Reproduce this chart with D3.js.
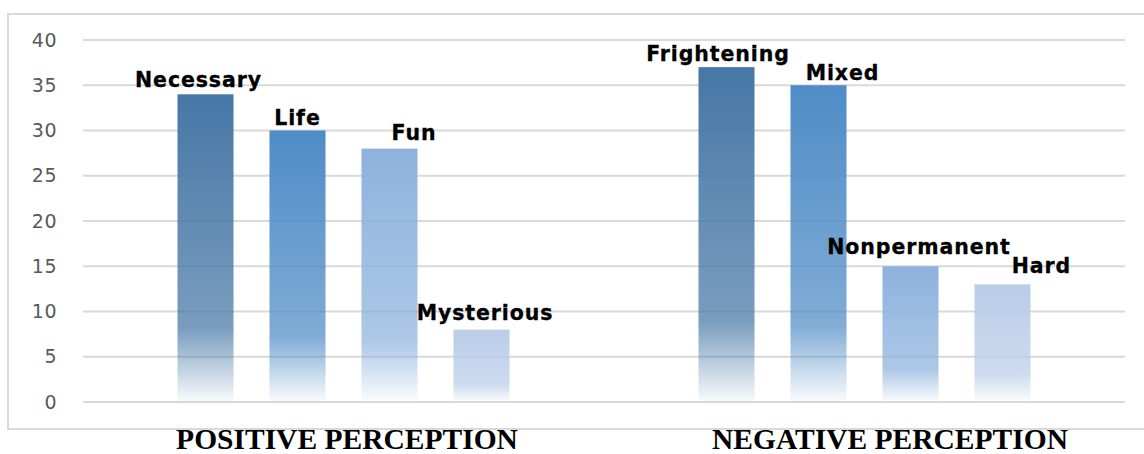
<!DOCTYPE html>
<html><head><meta charset="utf-8">
<script src="https://cdn.jsdelivr.net/npm/d3@7"></script>
<style>body{margin:0;background:#fff}svg{display:block}</style>
</head><body><svg id="c" width="1144" height="454"></svg>
<script>
const groups = ["POSITIVE PERCEPTION", "NEGATIVE PERCEPTION"];
const positiveLabels = ["Necessary", "Life", "Fun", "Mysterious"];
const positiveValues = [34, 30, 28, 8];
const negativeLabels = ["Frightening", "Mixed", "Nonpermanent", "Hard"];
const negativeValues = [37, 35, 15, 13];
const yTicks = [0, 5, 10, 15, 20, 25, 30, 35, 40];

const svg = d3.select("#c");
const mL = 83, mR = 1125, mT = 40, mB = 402;
const seriesColors = ["#4677a6", "#4f8cc6", "#8db2dd", "#b9cde8"];
// label offsets (presentation only)
const labelDx = [[-7, 0, 24.5, 3.5], [-8.5, 24, 8.5, 39]];
const labelDy = [[-7, -5.5, -8.5, -9.5], [-6, -5.5, -12, -11]];

svg.append("rect").attr("x", 8).attr("y", 14).attr("width", 1150).attr("height", 415)
  .attr("fill", "#fff").attr("stroke", "#d9d9d9").attr("stroke-width", 2);

const x0 = d3.scaleBand().domain(groups).range([mL, mR]);
const x1 = d3.scaleBand().domain(d3.range(4)).range([0, x0.bandwidth()]).paddingInner(0.391).paddingOuter(1.027);
const y = d3.scaleLinear().domain([0, 40]).range([mB, mT]);

const defs = svg.append("defs");
seriesColors.forEach((c, i) => {
  const g = defs.append("linearGradient").attr("id", "g" + i).attr("x1", 0).attr("y1", 0).attr("x2", 0).attr("y2", 1);
  g.append("stop").attr("offset", "0%").attr("stop-color", c).attr("stop-opacity", 1);
  g.append("stop").attr("offset", "76%").attr("stop-color", c).attr("stop-opacity", 0.72);
  g.append("stop").attr("offset", "100%").attr("stop-color", c).attr("stop-opacity", 0.03);
});

// grid
svg.append("g").selectAll("line").data(yTicks).join("line")
  .attr("x1", mL).attr("x2", mR).attr("y1", d => y(d)).attr("y2", d => y(d))
  .attr("stroke", "#d9d9d9").attr("stroke-width", 2);

// y axis
const yAxis = d3.axisLeft(y).tickValues(yTicks).tickSize(0).tickPadding(0);
const ya = svg.append("g").attr("transform", "translate(57,0)").call(yAxis);
ya.select(".domain").remove();
ya.selectAll("text").attr("font-family", "DejaVu Sans, sans-serif").attr("font-size", 19)
  .attr("letter-spacing", 0.5).attr("fill", "#595959");

const data = [
  {g: groups[0], labels: positiveLabels, values: positiveValues},
  {g: groups[1], labels: negativeLabels, values: negativeValues}
];
data.forEach((grp, gi) => {
  const gg = svg.append("g").attr("transform", `translate(${x0(grp.g)},0)`);
  const items = grp.values.map((v, i) => ({i, v, label: grp.labels[i]}));
  gg.selectAll("rect").data(items).join("rect")
    .attr("x", d => x1(d.i)).attr("width", x1.bandwidth())
    .attr("y", d => y(d.v)).attr("height", d => y(0) - y(d.v))
    .attr("fill", d => `url(#g${d.i})`);
  gg.selectAll("text").data(items).join("text")
    .attr("x", d => x1(d.i) + x1.bandwidth() / 2 + labelDx[gi][d.i])
    .attr("y", d => y(d.v) + labelDy[gi][d.i])
    .attr("text-anchor", "middle")
    .attr("font-family", "DejaVu Sans, sans-serif").attr("font-weight", "bold").attr("font-size", 20.5)
    .attr("letter-spacing", 0.9).attr("stroke", "#000").attr("stroke-width", 0.3)
    .attr("fill", "#000").text(d => d.label);
});

// group labels
const gdx = [3.5, 25.5];
svg.append("g").selectAll("text").data(groups).join("text")
  .attr("x", (d, i) => x0(d) + x0.bandwidth() / 2 + gdx[i]).attr("y", 449)
  .attr("text-anchor", "middle").attr("font-family", "Liberation Serif, serif")
  .attr("font-weight", "bold").attr("font-size", 29.5).attr("fill", "#000").text(d => d);
</script></body></html>
